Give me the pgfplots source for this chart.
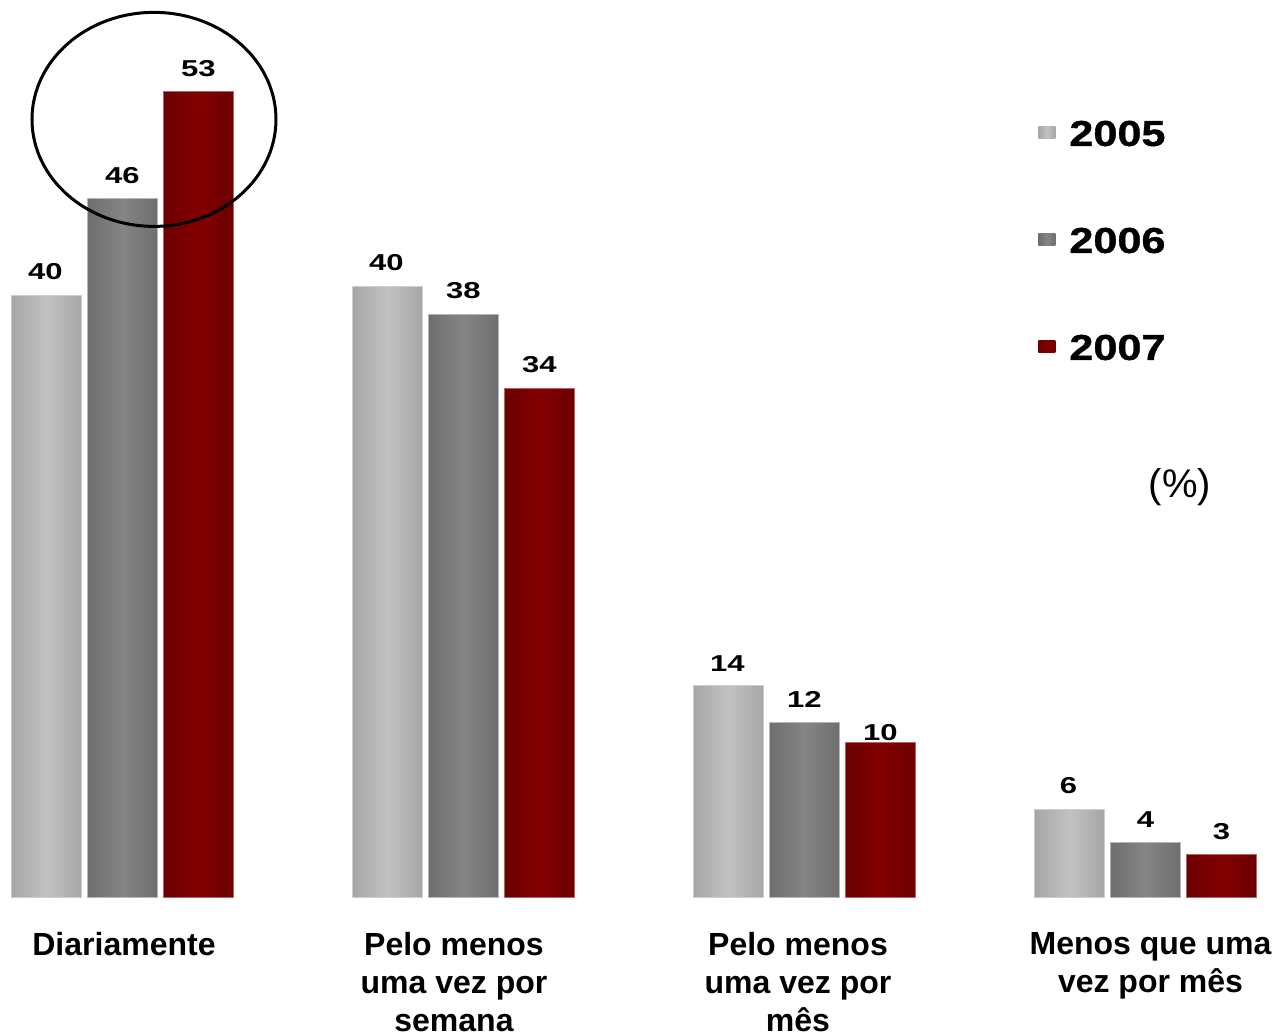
\documentclass[border=0pt]{standalone}
\usepackage{fontspec}
\setmainfont{Liberation Sans}
\newfontfamily\numfont{Liberation Sans}[FakeStretch=1.35]
\newfontfamily\legfont{Liberation Sans}[FakeStretch=1.2, FakeBold=1]
\usepackage{pgfplots}
\usepackage{pgfplotstable}
\pgfplotsset{compat=1.18}
\definecolor{lgE}{HTML}{A6A6A6}
\definecolor{lgM}{HTML}{C2C2C2}
\definecolor{dgE}{HTML}{6E6E6E}
\definecolor{dgM}{HTML}{858585}
\definecolor{rdE}{HTML}{6C0000}
\definecolor{rdM}{HTML}{820000}

\pgfplotstableread{
x y lab dy
0 39.6 40 11.75
1 40.2 40 11.75
2 13.9 14 11.0
3 5.76 6 11.75
}\tA
\pgfplotstableread{
x y lab dy
0 45.96 46 11.75
1 38.35 38 11.75
2 11.5 12 11.5
3 3.57 4 11.5
}\tB
\pgfplotstableread{
x y lab dy
0 53.0 53 11.75
1 33.5 34 11.5
2 10.2 10 4.65
3 2.8 3 11.5
}\tC

\pgfplotsset{
  sA/.style={ybar, bar width=35pt, bar shift=-38pt, left color=lgE, right color=lgE, middle color=lgM, draw=lgM!80!white, line width=0.4pt,
     every node near coord/.append style={xshift=-38.5pt}},
  sB/.style={ybar, bar width=35pt, bar shift=0pt, left color=dgE, right color=dgE, middle color=dgM, draw=dgM!60!white, line width=0.4pt},
  sC/.style={ybar, bar width=35pt, bar shift=38pt, left color=rdE, right color=rdE, middle color=rdM, draw=rdM!60!white, line width=0.4pt,
     every node near coord/.append style={xshift=38pt}},
}

\begin{document}
\begin{tikzpicture}
\begin{axis}[
  scale only axis, width=637.5pt, height=517pt,
  xmin=-0.3592, xmax=3.3798, ymin=-9.02, ymax=59.05,
  hide axis, clip=false,
  point meta=explicit symbolic,
  nodes near coords,
  visualization depends on={\thisrow{dy} \as \dy},
  every node near coord/.append style={anchor=center, inner sep=0pt, yshift=\dy pt,
     font=\numfont\bfseries\fontsize{11.5}{12}\selectfont, text=black},
  legend image code/.code={\path[draw=none, fill=none] (0pt,0pt) -- (15.5pt,0pt);
     \path[#1, draw=none] (0pt,-3pt) rectangle (8.5pt,3pt);},
  legend cell align=left,
  legend style={at={(axis cs:2.6848,51.18)}, anchor=north west, draw=none, fill=none,
     inner sep=0pt, row sep=40.5pt,
     nodes={inner sep=0pt, text height=13pt, text depth=0pt},
     font=\legfont\bfseries\fontsize{18}{20}\selectfont},
]
\addplot[sA, restrict x to domain=0:0] table[x=x, y=y, meta=lab]{\tA};
\addplot[sB, restrict x to domain=0:0] table[x=x, y=y, meta=lab]{\tB};
\addplot[sC, restrict x to domain=0:0] table[x=x, y=y, meta=lab]{\tC};
\legend{2005,2006,2007}
\pgfplotsinvokeforeach{1,2,3}{
  \addplot[sA, forget plot, restrict x to domain=#1:#1] table[x=x, y=y, meta=lab]{\tA};
  \addplot[sB, forget plot, restrict x to domain=#1:#1] table[x=x, y=y, meta=lab]{\tB};
  \addplot[sC, forget plot, restrict x to domain=#1:#1] table[x=x, y=y, meta=lab]{\tC};
}

\draw[line width=1.5pt, black] (axis cs:0.0924,51.19) ellipse [x radius=61pt, y radius=53.5pt];

\node[font=\fontsize{20}{22}\selectfont, inner sep=0pt] at (axis cs:3.101,26.96) {(\%)};

\begin{scope}[every node/.style={anchor=north, inner sep=0pt, align=center,
   font=\bfseries\fontsize{16}{19}\selectfont}]
\node at (axis cs:0.0044,-2.30) {Diariamente};
\node at (axis cs:0.9721,-2.30) {Pelo menos\\uma vez por\\semana};
\node at (axis cs:1.981,-2.30) {Pelo menos\\uma vez por\\mês};
\node at (axis cs:3.0147,-2.30) {Menos que uma\\vez por mês};
\end{scope}

\coordinate (bl) at (rel axis cs:0,0);
\coordinate (tr) at (rel axis cs:1,1);
\end{axis}
\pgfresetboundingbox
\useasboundingbox (bl) rectangle (tr);
\end{tikzpicture}
\end{document}
